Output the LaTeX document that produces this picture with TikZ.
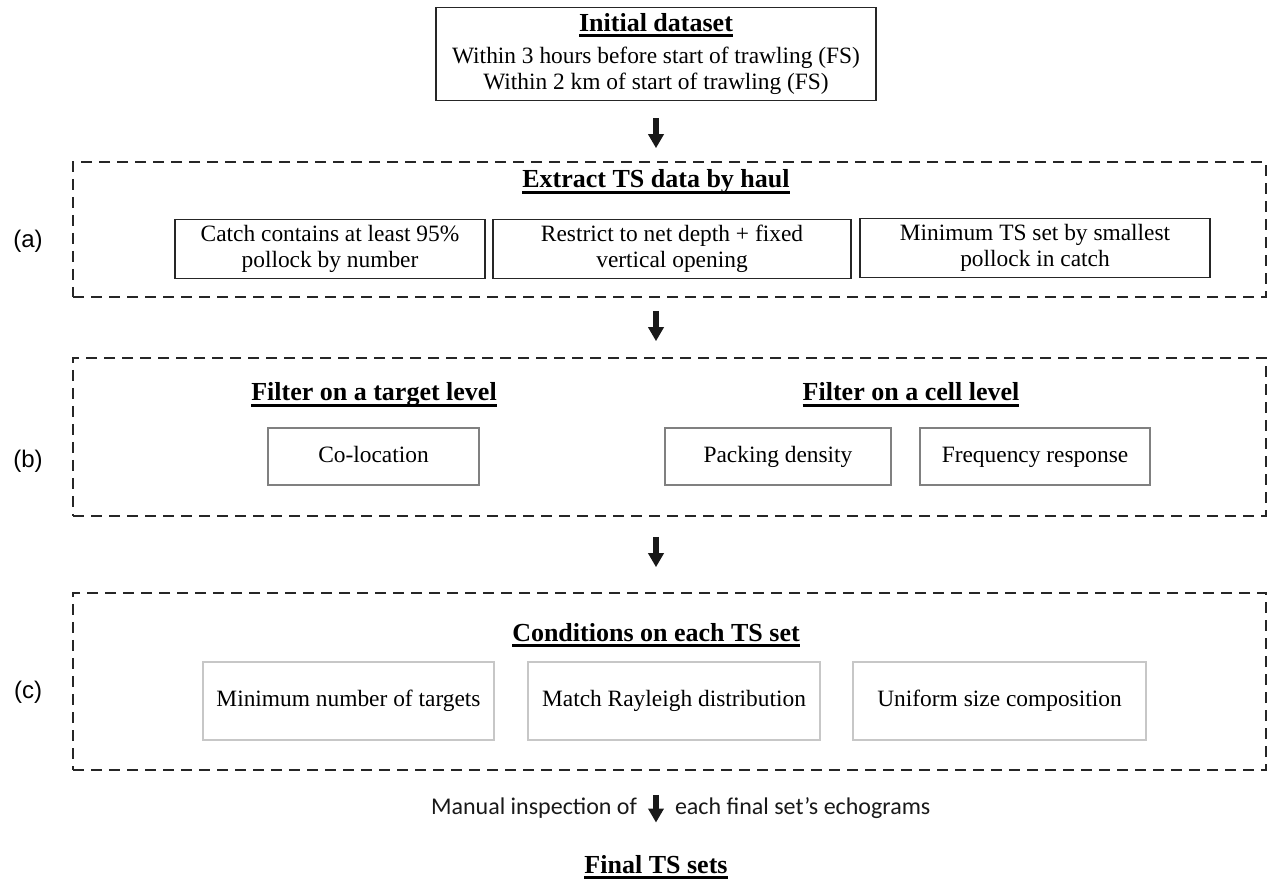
\documentclass[tikz,border=0pt]{standalone}
\usepackage{fontspec}
\setmainfont{Liberation Serif}
\newfontfamily\labelfont{Liberation Sans}
\newfontfamily\notefont{Carlito}
\usetikzlibrary{arrows.meta, positioning}

\newcommand{\bodysize}{\fontsize{11.7}{12.8}\selectfont}
\newcommand{\headfont}{\fontsize{13}{15}\selectfont\bfseries}
\newsavebox{\headbox}
\newcommand{\ulhead}[1]{\sbox{\headbox}{#1}\rlap{\rule[-2.8pt]{\wd\headbox}{1.3pt}}\usebox{\headbox}}

\begin{document}
\begin{tikzpicture}[
    x = 0.5pt, y = -0.5pt,
    every node/.style = {font=\bodysize},
    box/.style   = {rectangle, draw, line width=0.8pt, align=center, inner sep=3pt},
    boxa/.style  = {box, draw=black!85, minimum height=28pt},
    boxb/.style  = {box, draw=black!50, minimum height=28.5pt, text height=8.3pt, text depth=2.6pt},
    boxc/.style  = {box, draw=black!22, minimum height=39pt, text height=8.3pt, text depth=2.6pt},
    frame/.style = {rectangle, draw=black!85, line width=0.8pt,
                    dash pattern=on 5.5pt off 3.5pt, minimum width=596.5pt},
    head/.style  = {anchor=base, inner sep=0pt, font=\headfont},
    tag/.style   = {font=\labelfont\fontsize{12}{14}\selectfont},
    note/.style  = {font=\notefont\fontsize{12}{14}\selectfont, inner sep=0pt},
    arr/.style   = {-{Triangle[width=7.5pt, length=7pt]}, line width=3pt, black!90}
  ]
  \useasboundingbox (0,0) rectangle (1268,886);

  % nodes
  \node[boxa, minimum width=220pt, minimum height=46pt] (init) at (656,54)
    {{\headfont\ulhead{Initial dataset}}\\[3.5pt]Within 3 hours before start of trawling (FS)\\Within 2 km of start of trawling (FS)};

  \node[frame, minimum height=67.5pt] (fa) at (669.5,229.5) {};
  \node[frame, minimum height=79pt]   (fb) at (669.5,437) {};
  \node[frame, minimum height=88.5pt] (fc) at (669.5,681.5) {};

  \node[tag] (la) at (28,241) {(a)};
  \node[tag] (lb) at (28,461) {(b)};
  \node[tag] (lc) at (28,692) {(c)};

  \node[head] (ta) at (656,188) {\ulhead{Extract TS data by haul}};
  \node[boxa, minimum width=155pt] (a1) at (330,249) {Catch contains at least 95\%\\pollock by number};
  \node[boxa, minimum width=179pt] (a2) at (672,249) {Restrict to net depth + fixed\\vertical opening};
  \node[boxa, minimum width=175pt] (a3) at (1035,248) {Minimum TS set by smallest\\pollock in catch};

  \node[head] (tb1) at (374,401) {\ulhead{Filter on a target level}};
  \node[head] (tb2) at (911,401) {\ulhead{Filter on a cell level}};
  \node[boxb, minimum width=105.5pt] (b1) at (373.5,456.5) {Co-location};
  \node[boxb, minimum width=113pt]   (b2) at (778,456.5) {Packing density};
  \node[boxb, minimum width=115pt]   (b3) at (1035,456.5) {Frequency response};

  \node[head] (tc) at (656,641) {\ulhead{Conditions on each TS set}};
  \node[boxc, minimum width=145.5pt] (c1) at (348.5,701) {Minimum number of targets};
  \node[boxc, minimum width=146pt]   (c2) at (674,701) {Match Rayleigh distribution};
  \node[boxc, minimum width=146.5pt] (c3) at (999.5,701) {Uniform size composition};

  \node[head] (final) at (656,873) {\ulhead{Final TS sets}};

  % edges
  \draw[arr, shorten <=8.5pt, shorten >=6.5pt] (init) -- (init |- fa.north);
  \draw[arr, shorten <=6.5pt, shorten >=8pt]   (init |- fa.south) -- (init |- fb.north);
  \draw[arr, shorten <=10pt, shorten >=12.5pt] (init |- fb.south) -- (init |- fc.north);
  \draw[arr, shorten <=12pt, shorten >=16pt]   (init |- fc.south) -- (final)
    node[note, pos=0.44, left=8pt]  (insp1) {Manual inspection of}
    node[note, pos=0.44, right=8pt] (insp2) {each final set’s echograms};

\end{tikzpicture}
\end{document}
